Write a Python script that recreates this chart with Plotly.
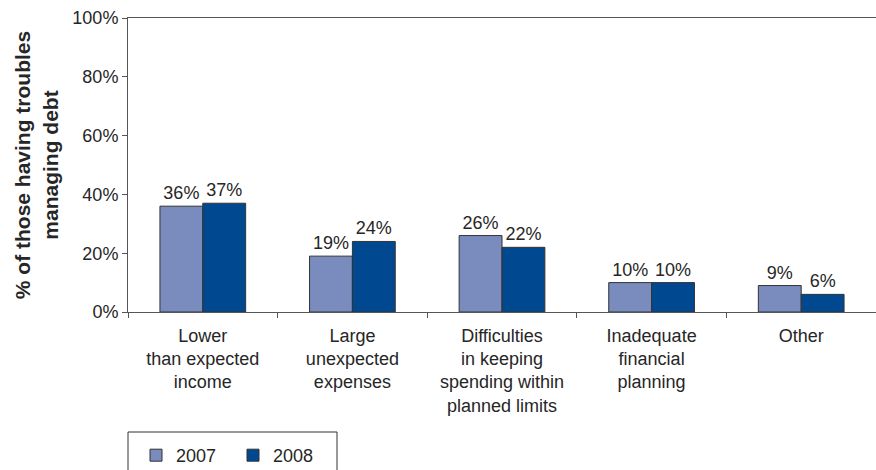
import plotly.graph_objects as go

# Reasons for having troubles managing debt, share of respondents (%)
categories = [
    "Lower<br>than expected<br>income",
    "Large<br>unexpected<br>expenses",
    "Difficulties<br>in keeping<br>spending within<br>planned limits",
    "Inadequate<br>financial<br>planning",
    "Other",
]
values_2007 = [36, 19, 26, 10, 9]
values_2008 = [37, 24, 22, 10, 6]
y_ticks = [0, 20, 40, 60, 80, 100]
y_tick_labels = [f"{v}%" for v in y_ticks]

FONT = "Liberation Sans, Arial, Helvetica, sans-serif"
TEXT = "#262626"
AXIS = "#555555"

W, H = 876, 470
ML, MR, MT, MB = 128, 0, 18, 158
PW = W - ML - MR
PH = H - MT - MB


def px_x(px):
    return (px - ML) / PW


def px_y(py):
    return (H - MB - py) / PH


def bar_trace(name, values, color):
    return go.Bar(
        name=name, x=categories, y=values,
        marker=dict(color=color, line=dict(color="#333333", width=1)),
        text=[f"{v}%" for v in values], texttemplate="%{text}",
        textposition="outside", constraintext="none",
        textfont=dict(family=FONT, size=18, color=TEXT),
        cliponaxis=False,
    )


fig = go.Figure()
fig.add_trace(bar_trace("2007", values_2007, "#7a8bbd"))
fig.add_trace(bar_trace("2008", values_2008, "#004990"))

fig.update_layout(
    width=W, height=H,
    margin=dict(l=ML, r=MR, t=MT, b=MB, pad=0, autoexpand=False),
    paper_bgcolor="white", plot_bgcolor="white",
    barmode="group", bargap=0.427, bargroupgap=0,
    font=dict(family=FONT, size=18, color=TEXT),
    showlegend=True,
    legend=dict(
        orientation="h",
        xref="container", yref="container",
        x=136 / W, y=(H - 437) / H,
        xanchor="left", yanchor="top",
        bgcolor="rgba(0,0,0,0)", borderwidth=0,
        font=dict(family=FONT, size=18, color=TEXT),
        entrywidth=52, entrywidthmode="pixels",
        traceorder="normal",
    ),
    xaxis=dict(
        showline=True, linecolor=AXIS, linewidth=1, mirror=True,
        ticks="outside", ticklen=5, tickcolor=AXIS, tickson="boundaries",
        showgrid=False, zeroline=False, automargin=False,
        tickfont=dict(family=FONT, size=18, color=TEXT),
        ticklabelstandoff=7,
        range=[-0.5, 4.5],
    ),
    yaxis=dict(
        range=[0, 100], tickvals=y_ticks, ticktext=y_tick_labels,
        showline=True, linecolor=AXIS, linewidth=1,
        ticks="outside", ticklen=5, tickcolor=AXIS,
        showgrid=False, zeroline=False, automargin=False,
        tickfont=dict(family=FONT, size=18, color=TEXT),
        title=dict(
            text="% of those having troubles<br>managing debt",
            font=dict(family=FONT, size=21, color=TEXT, weight="bold"),
            standoff=8,
        ),
    ),
    shapes=[dict(
        type="rect", xref="paper", yref="paper",
        x0=px_x(128), x1=px_x(337), y0=px_y(432), y1=px_y(490),
        line=dict(color="#333333", width=1), fillcolor="rgba(0,0,0,0)",
        layer="above",
    )],
)

fig.write_html("out.html")
